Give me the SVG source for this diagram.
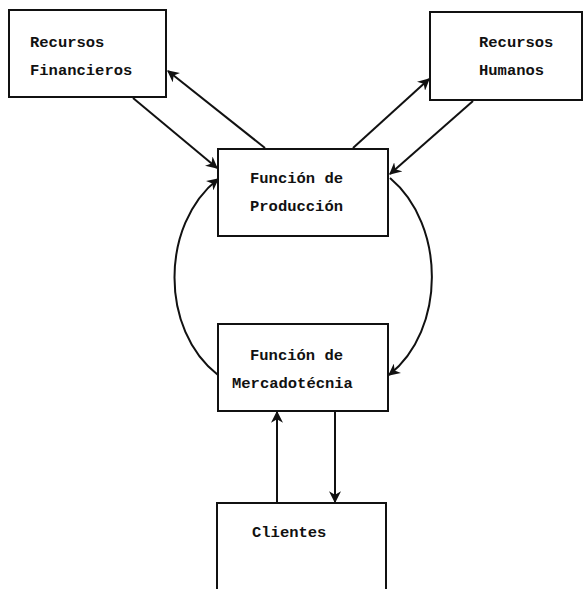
<svg xmlns="http://www.w3.org/2000/svg" width="584" height="589" viewBox="0 0 584 589">
<style>
.box{fill:#fff;stroke:#111;stroke-width:2}
.t{font-family:"Liberation Mono","Courier New",monospace;font-size:15.5px;font-weight:bold;fill:#111}
.c{fill:none;stroke:#111;stroke-width:2}
</style>
<defs>
<marker id="ah" viewBox="0 0 10 10" refX="9" refY="5" markerWidth="6" markerHeight="6" orient="auto" markerUnits="strokeWidth">
<path d="M0,0 L10,5 L0,10 L3,5 Z" fill="#111"/>
</marker>
</defs>
<rect width="584" height="589" fill="#fff"/>
<g id="fin">
<rect class="box" x="9" y="10" width="157" height="87"/>
<text class="t" x="30" y="47">Recursos</text>
<text class="t" x="30" y="75">Financieros</text>
</g>
<g id="hum">
<rect class="box" x="430" y="12" width="152" height="88"/>
<text class="t" x="479" y="47">Recursos</text>
<text class="t" x="479" y="75">Humanos</text>
</g>
<g id="prod">
<rect class="box" x="218" y="149" width="170" height="87"/>
<text class="t" x="250" y="183">Función de</text>
<text class="t" x="250" y="211">Producción</text>
</g>
<g id="merc">
<rect class="box" x="218" y="324" width="170" height="87"/>
<text class="t" x="250" y="360">Función de</text>
<text class="t" x="232" y="388">Mercadotécnia</text>
</g>
<g id="cli">
<rect class="box" x="217" y="503" width="169" height="100"/>
<text class="t" x="252" y="537">Clientes</text>
</g>
<g id="connectors">
<line class="c" x1="133" y1="98" x2="217" y2="168" marker-end="url(#ah)"/>
<line class="c" x1="265" y1="148" x2="168" y2="71" marker-end="url(#ah)"/>
<line class="c" x1="353" y1="148" x2="429" y2="79" marker-end="url(#ah)"/>
<line class="c" x1="473" y1="101" x2="390" y2="174" marker-end="url(#ah)"/>
<path class="c" d="M218,375 C160,330 160,225 218,179" marker-end="url(#ah)"/>
<path class="c" d="M390,178 C446,225 446,330 389,375" marker-end="url(#ah)"/>
<line class="c" x1="277" y1="503" x2="277" y2="412" marker-end="url(#ah)"/>
<line class="c" x1="335" y1="411" x2="335" y2="502" marker-end="url(#ah)"/>
</g>
</svg>
